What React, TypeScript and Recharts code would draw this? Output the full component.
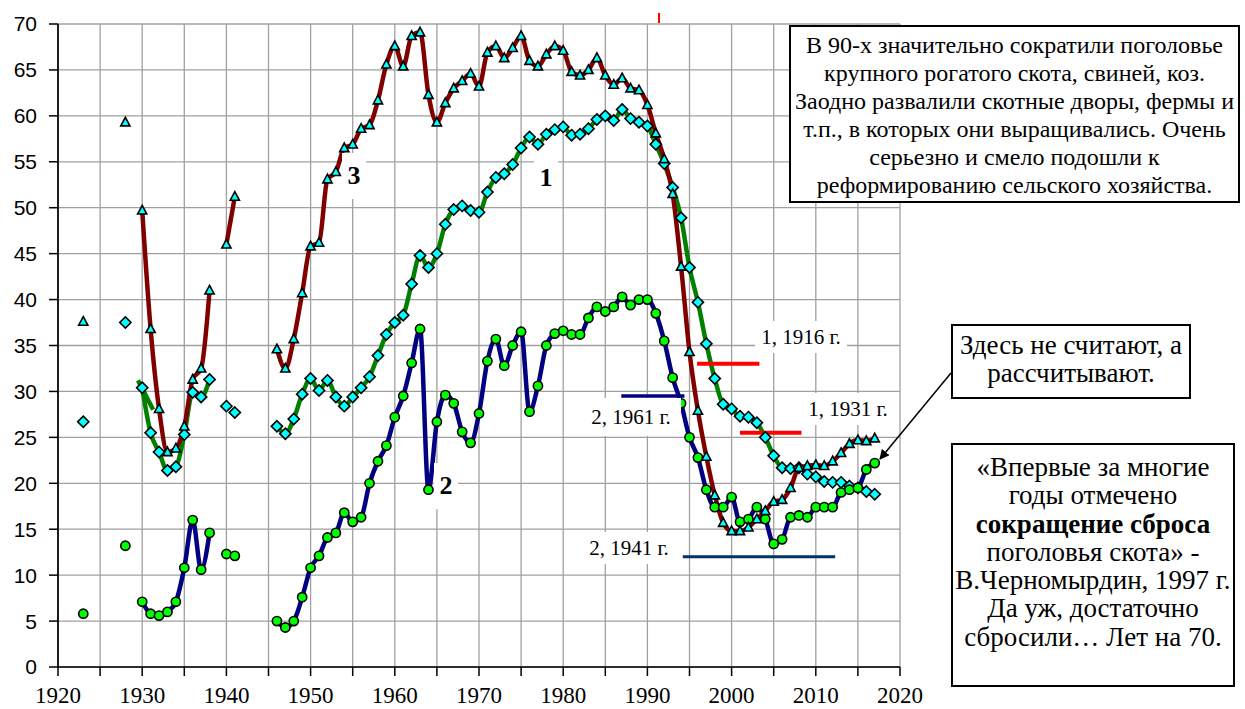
import React from "react";
import {
  ComposedChart,
  Line,
  XAxis,
  YAxis,
  CartesianGrid,
  ReferenceLine
} from "recharts";

// 1 – green / diamonds, 2 – blue / circles, 3 – dark red / triangles
const earlyYears = [1930, 1931, 1932, 1933, 1934, 1935, 1936, 1937, 1938];
const s1Early = [30.4, 25.5, 23.4, 21.4, 21.8, 25.3, 29.9, 29.4, 31.3];
const s2Early = [7.1, 5.8, 5.6, 6.0, 7.1, 10.8, 16.0, 10.6, 14.6];
const s3Early = [49.7, 36.8, 28.1, 23.4, 23.8, 26.2, 31.3, 32.5, 41.0];

const warYears = [1940, 1941];
const s3War = [46.0, 51.2];

// points drawn without a line
const isoYears = [1923, 1928, 1940, 1941];
const s1Iso = [26.7, 37.5, 28.4, 27.7];
const s2Iso = [5.8, 13.2, 12.3, 12.1];
const s3IsoYears = [1923, 1928];
const s3Iso = [37.6, 59.3];

const firstPostwar = 1946;
const s1Postwar = [
  26.2, 25.4, 27.0, 29.7, 31.4, 30.1, 31.2, 29.4, 28.4, 29.4,
  30.4, 31.6, 33.9, 36.2, 37.5, 38.3, 41.7, 44.8, 43.5, 45.0,
  48.2, 49.8, 50.2, 49.7, 49.5, 51.7, 53.3, 53.7, 54.7, 56.5,
  57.7, 56.9, 58.0, 58.5, 58.8, 57.9, 58.0, 58.6, 59.6, 60.0,
  59.5, 60.7, 59.7, 59.3, 58.9, 56.9, 54.8, 52.2, 48.9, 43.5,
  39.7, 35.2, 31.4, 28.6, 28.1, 27.3, 27.2, 26.6, 25.0, 23.0,
  21.7, 21.6, 21.7, 21.0, 20.7, 20.2, 20.1, 20.1, 19.7, 19.5,
  19.1, 18.8
];
const s2Postwar = [
  5.0, 4.3, 5.0, 7.6, 10.8, 12.1, 14.1, 14.6, 16.8, 15.8,
  16.3, 20.0, 22.4, 24.1, 27.2, 29.5, 33.1, 36.8, 19.3, 26.7,
  29.6, 28.7, 25.6, 24.4, 27.6, 33.3, 35.7, 32.8, 35.0, 36.5,
  27.8, 30.6, 35.0, 36.3, 36.6, 36.2, 36.2, 38.0, 39.2, 38.7,
  39.2, 40.3, 39.4, 40.0, 40.0, 38.5, 35.5, 31.5, 28.7, 25.0,
  22.8, 19.3, 17.4, 17.4, 18.5, 15.8, 16.1, 17.4, 16.1, 13.4,
  13.9, 16.3, 16.5, 16.3, 17.4, 17.4, 17.4, 19.0, 19.3, 19.5,
  21.5, 22.2
];
const s3Postwar = [
  34.6, 32.5, 35.7, 40.7, 45.8, 46.2, 53.1, 53.9, 56.5, 56.9,
  58.6, 59.0, 61.7, 65.6, 67.6, 65.4, 68.7, 69.1, 62.3, 59.3,
  61.4, 63.0, 63.8, 64.6, 63.2, 66.9, 67.6, 66.3, 67.4, 68.7,
  66.0, 65.4, 66.7, 67.6, 67.1, 64.8, 64.4, 65.0, 66.3, 64.4,
  63.4, 64.1, 63.0, 62.8, 61.2, 58.1, 55.3, 51.5, 43.6, 34.3,
  27.9, 22.9, 18.7, 15.7, 14.8, 14.8, 15.2, 16.1, 17.0, 18.0,
  18.2, 19.5, 21.7, 21.9, 22.0, 21.9, 22.4, 23.3, 24.3, 24.7,
  24.6, 24.9
];

// short stray green stroke near 1930
const s1Stray = [
  { year: 1929.5, v: 31.2 },
  { year: 1931.3, v: 28.0 }
];

// horizontal level markers
const levelSegments = [
  { from: 1995.9, to: 2003.3, value: 33.0, label: "1, 1916 г." },
  { from: 2001.0, to: 2008.3, value: 25.5, label: "1, 1931 г." },
  { from: 1986.9, to: 1994.4, value: 29.5, label: "2, 1961 г." },
  { from: 1994.2, to: 2012.3, value: 12.0, label: "2, 1941 г." }
];

const xTicks = [
  1920, 1925, 1930, 1935, 1940, 1945, 1950, 1955, 1960, 1965, 1970,
  1975, 1980, 1985, 1990, 1995, 2000, 2005, 2010, 2015, 2020
];
const yTicks = [0, 5, 10, 15, 20, 25, 30, 35, 40, 45, 50, 55, 60, 65, 70];

const noteTop = [
  "В 90-х значительно сократили поголовье",
  "крупного рогатого скота, свиней, коз.",
  "Заодно развалили скотные дворы, фермы и",
  "т.п., в которых они выращивались. Очень",
  "серьезно и смело подошли к",
  "реформированию сельского хозяйства."
];
const noteMid = ["Здесь не считают, а", "рассчитывают."];

type Row = { year: number; [k: string]: number | null };

function buildRows(): Row[] {
  const rows: Row[] = [];
  for (let y = 1923; y <= 2017; y++) {
    rows.push({ year: y, s1: null, s2: null, s3: null, s1p: null, s2p: null });
  }
  const at = (y: number) => rows[y - 1923];
  earlyYears.forEach((y, i) => {
    at(y).s1 = s1Early[i];
    at(y).s2 = s2Early[i];
    at(y).s3 = s3Early[i];
  });
  warYears.forEach((y, i) => (at(y).s3 = s3War[i]));
  isoYears.forEach((y, i) => {
    at(y).s1p = s1Iso[i];
    at(y).s2p = s2Iso[i];
  });
  s3IsoYears.forEach((y, i) => (at(y).s3 = s3Iso[i]));
  s1Postwar.forEach((v, i) => (at(firstPostwar + i).s1 = v));
  s2Postwar.forEach((v, i) => (at(firstPostwar + i).s2 = v));
  s3Postwar.forEach((v, i) => (at(firstPostwar + i).s3 = v));
  return rows;
}

const rows = buildRows();

const triangleDot = (p: any) => {
  const { cx, cy, index } = p;
  if (cx == null || cy == null || p.value == null) return <g key={"t" + index} />;
  return (
    <path
      key={"t" + index}
      d={`M${cx},${cy - 5} L${cx + 4.6},${cy + 3.6} L${cx - 4.6},${cy + 3.6} Z`}
      fill="#00ffff"
      stroke="#000"
      strokeWidth={1.6}
    />
  );
};

const diamondDot = (p: any) => {
  const { cx, cy, index } = p;
  if (cx == null || cy == null || p.value == null) return <g key={"d" + index} />;
  return (
    <path
      key={"d" + index}
      d={`M${cx},${cy - 5.6} L${cx + 5.6},${cy} L${cx},${cy + 5.6} L${cx - 5.6},${cy} Z`}
      fill="#00ffff"
      stroke="#000"
      strokeWidth={1.6}
    />
  );
};

const circleDot = (p: any) => {
  const { cx, cy, index } = p;
  if (cx == null || cy == null || p.value == null) return <g key={"c" + index} />;
  return (
    <circle key={"c" + index} cx={cx} cy={cy} r={4.6} fill="#00ff00" stroke="#000" strokeWidth={1.6} />
  );
};

const levelColors = ["#ff0000", "#ff0000", "#000080", "#003366"];
const levelWidths = [4, 4, 3.5, 3];
// label boxes for level markers: [left, top, width, height]
const levelLabelBoxes = [
  [755, 321, 92, 32],
  [797, 393, 102, 32],
  [581, 398, 100, 38],
  [579, 532, 100, 32]
];

const serif = "'Liberation Serif', 'Times New Roman', serif";
const sans = "'Liberation Sans', Arial, sans-serif";

function Tag({ left, top, w, h, text, size, bold }: any) {
  return (
    <div
      style={{
        position: "absolute",
        left,
        top,
        width: w,
        height: h,
        background: "#fff",
        display: "flex",
        alignItems: "center",
        justifyContent: "center",
        fontFamily: serif,
        fontSize: size,
        fontWeight: bold ? "bold" : "normal",
        whiteSpace: "nowrap"
      }}
    >
      {text}
    </div>
  );
}

const boxStyle: React.CSSProperties = {
  position: "absolute",
  boxSizing: "border-box",
  border: "2px solid #000",
  background: "#fff",
  fontFamily: serif,
  textAlign: "center",
  whiteSpace: "nowrap"
};

export default function App() {
  return (
    <div style={{ position: "absolute", left: 0, top: 0, width: 1245, height: 709, background: "#fff", fontFamily: serif }}>
      <ComposedChart
        width={1245}
        height={709}
        data={rows}
        margin={{ top: 24, right: 345, bottom: 0, left: 0 }}
      >
        <CartesianGrid stroke="#a0a0a0" strokeWidth={1.3} />
        <XAxis
          dataKey="year"
          type="number"
          domain={[1920, 2020]}
          ticks={xTicks}
          interval={0}
          height={42}
          tickSize={9}
          tickMargin={11}
          tickFormatter={(v: number) => (v % 10 === 0 ? String(v) : "")}
          axisLine={{ stroke: "#000", strokeWidth: 1.7 }}
          tickLine={{ stroke: "#000", strokeWidth: 1.5 }}
          tick={{ fill: "#000", fontSize: 23, fontFamily: serif }}
        />
        <YAxis
          type="number"
          domain={[0, 70]}
          ticks={yTicks}
          interval={0}
          width={58}
          tickSize={9}
          tickMargin={12}
          axisLine={{ stroke: "#000", strokeWidth: 1.7 }}
          tickLine={{ stroke: "#000", strokeWidth: 1.5 }}
          tick={{ fill: "#000", fontSize: 21, fontFamily: sans }}
        />
        <Line
          data={s1Stray}
          dataKey="v"
          stroke="#008000"
          strokeWidth={4.5}
          dot={false}
          isAnimationActive={false}
        />
        <Line
          type="monotone"
          dataKey="s1"
          stroke="#008000"
          strokeWidth={4.5}
          dot={diamondDot}
          activeDot={false}
          isAnimationActive={false}
        />
        <Line
          dataKey="s1p"
          stroke="none"
          dot={diamondDot}
          activeDot={false}
          isAnimationActive={false}
        />
        <Line
          type="monotone"
          dataKey="s2"
          stroke="#000080"
          strokeWidth={4.5}
          dot={circleDot}
          activeDot={false}
          isAnimationActive={false}
        />
        <Line
          dataKey="s2p"
          stroke="none"
          dot={circleDot}
          activeDot={false}
          isAnimationActive={false}
        />
        <Line
          type="monotone"
          dataKey="s3"
          stroke="#800000"
          strokeWidth={4.5}
          dot={triangleDot}
          activeDot={false}
          isAnimationActive={false}
        />
        {levelSegments.map((s, i) => (
          <ReferenceLine
            key={s.label}
            segment={[
              { x: s.from, y: s.value },
              { x: s.to, y: s.value }
            ]}
            stroke={levelColors[i]}
            strokeWidth={levelWidths[i]}
            ifOverflow="visible"
          />
        ))}
      </ComposedChart>

      {levelSegments.map((s, i) => {
        const [l, t, w, h] = levelLabelBoxes[i];
        return <Tag key={s.label} left={l} top={t} w={w} h={h} text={s.label} size={21} />;
      })}
      <Tag left={342} top={153} w={24} h={46} text="3" size={26} bold />
      <Tag left={534} top={155} w={24} h={46} text="1" size={26} bold />
      <Tag left={434} top={463} w={24} h={46} text="2" size={26} bold />

      {/* small red mark above the plot */}
      <div style={{ position: "absolute", left: 658, top: 13, width: 2, height: 10, background: "#ff0000" }} />

      <svg width={1245} height={709} style={{ position: "absolute", left: 0, top: 0, pointerEvents: "none" }}>
        <defs>
          <marker id="ah" markerWidth="10" markerHeight="10" refX="9" refY="5" orient="auto" markerUnits="userSpaceOnUse">
            <path d="M0,0 L10,5 L0,10 Z" fill="#000" />
          </marker>
        </defs>
        <line x1={951} y1={373} x2={880} y2={459} stroke="#000" strokeWidth={1.5} markerEnd="url(#ah)" />
      </svg>

      <div style={{ ...boxStyle, left: 789, top: 25, width: 451, height: 178, paddingTop: 4, fontSize: 24, lineHeight: "28px" }}>
        {noteTop.map((t) => (
          <div key={t}>{t}</div>
        ))}
      </div>

      <div style={{ ...boxStyle, left: 951, top: 324, width: 240, height: 75, paddingTop: 5, fontSize: 27, lineHeight: "28.3px" }}>
        {noteMid.map((t) => (
          <div key={t}>{t}</div>
        ))}
      </div>

      <div style={{ ...boxStyle, left: 951, top: 443, width: 284, height: 244, paddingTop: 8, fontSize: 27, lineHeight: "28.3px" }}>
        <div>«Впервые за многие</div>
        <div>годы отмечено</div>
        <div>
          <b>сокращение сброса</b>
        </div>
        <div>поголовья скота» -</div>
        <div>В.Черномырдин, 1997 г.</div>
        <div>Да уж, достаточно</div>
        <div>сбросили…  Лет на 70.</div>
      </div>
    </div>
  );
}
